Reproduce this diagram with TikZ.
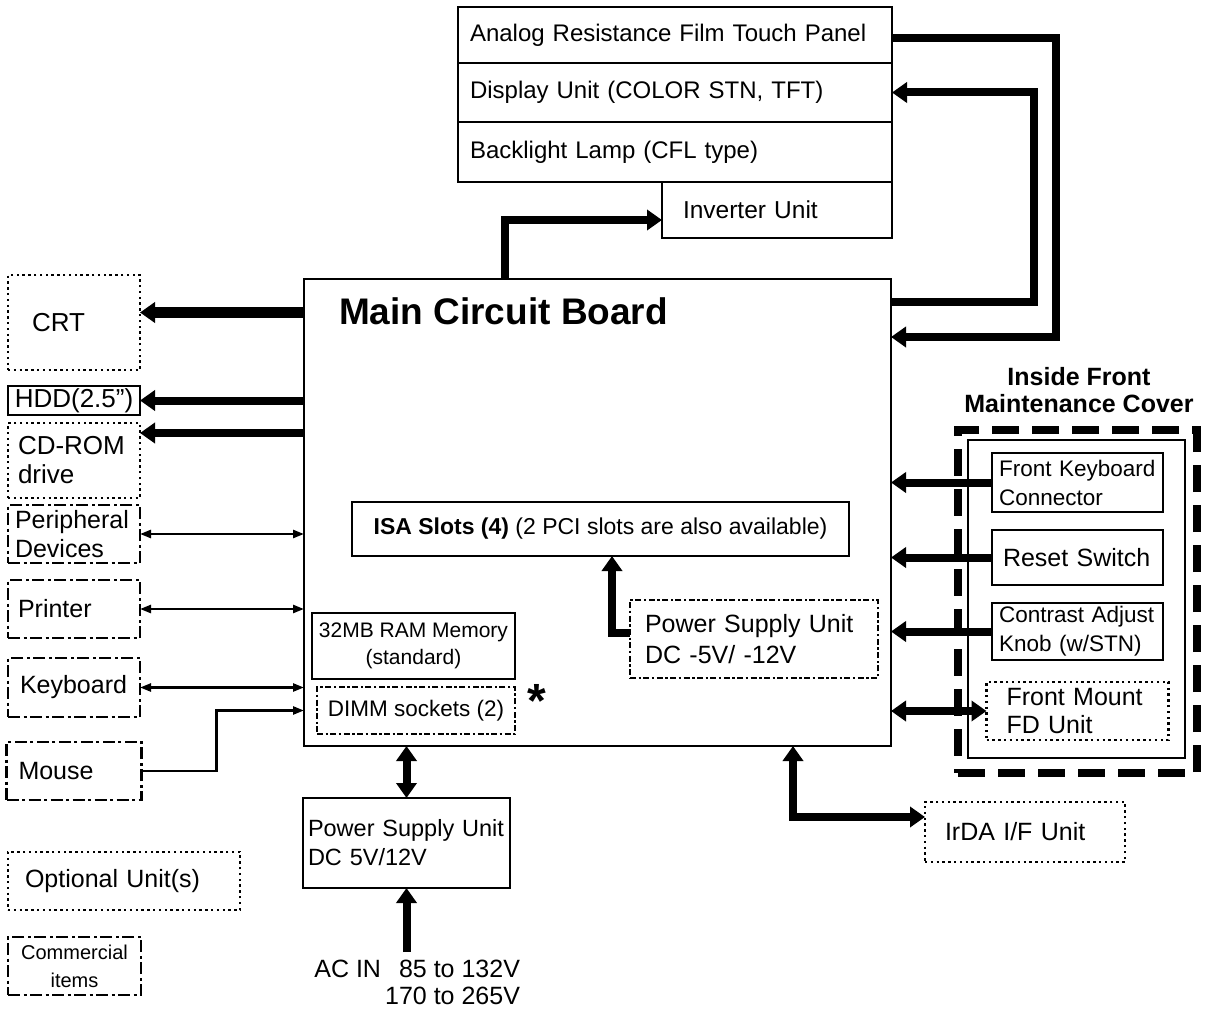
\documentclass[tikz,border=0pt]{standalone}
\usepackage{fontspec}
\setmainfont{Liberation Sans}
\usepackage{tikz}
\usetikzlibrary{arrows.meta,positioning}
\newcommand{\fsz}[2]{\fontsize{#1}{#2}\selectfont}

\begin{document}
\begin{tikzpicture}[x=1pt, y=-1pt, node distance=16pt,
  every node/.style={inner sep=0pt, outer sep=0pt, font=\fsz{25}{29}},
  sbox/.style={draw, line width=2.2pt},
  dotbox/.style={draw, line width=2.4pt, dash pattern=on 2.4pt off 3.4pt},
  dashdot/.style={draw, line width=2.8pt, dash pattern=on 12pt off 3.5pt on 3pt off 3.5pt},
  mixbox/.style={draw, line width=2.4pt, dash pattern=on 6pt off 2.5pt on 2.4pt off 2.5pt},
  lbox/.style 2 args={inner xsep=#1pt, text width=#2pt, align=left},
  thk/.style={line width=8pt, -{Triangle[length=15pt,width=20pt]}},
  thkk/.style={line width=8pt, {Triangle[length=15pt,width=20pt]}-{Triangle[length=15pt,width=20pt]}},
  thn/.style={line width=2.4pt, {Triangle[length=11pt,width=8pt]}-{Triangle[length=11pt,width=8pt]}},
  thn1/.style={line width=2.4pt, -{Triangle[length=11pt,width=8pt]}}]
  \useasboundingbox (0,0) rectangle (1210,1011);

  % display stack
  \node[sbox, lbox={12}{410}, minimum height=56pt, font=\fsz{24}{28}] (touch) at (675,35) {Analog Resistance Film Touch Panel};
  \node[sbox, lbox={12}{410}, minimum height=59pt, font=\fsz{24}{28}, below=0pt of touch] (disp) {Display Unit (COLOR STN, TFT)};
  \node[sbox, lbox={12}{410}, minimum height=60pt, font=\fsz{24}{28}, below=0pt of disp] (lamp) {Backlight Lamp (CFL type)};
  \node[sbox, lbox={21}{188}, minimum height=56pt, font=\fsz{24.5}{28}, below left=0pt and 0pt of lamp.south east] (inv) {Inverter Unit};

  % main board
  \node[sbox, minimum width=587pt, minimum height=467pt] (main) at (597.5,512.5) {};
  \node[font=\bfseries\fsz{37}{40}, anchor=west] (mainlbl) at (339,311) {Main Circuit Board};
  \node[sbox, minimum width=497pt, minimum height=54pt, font=\fsz{23}{27}] (isa) at (600.5,529) {\textbf{ISA Slots (4)} (2 PCI slots are also available)};
  \node[sbox, minimum width=203pt, minimum height=66pt, align=center, font=\fsz{21}{27}] (ram) at (413.5,646) {32MB RAM Memory\\(standard)};
  \node[mixbox, minimum width=198pt, minimum height=47pt, font=\fsz{22.5}{25}] (dimm) at (416,710.5) {DIMM sockets (2)};
  \node[font=\bfseries\fsz{48}{48}] (ast) at (537,701) {*};
  \node[mixbox, lbox={15}{218}, minimum height=78pt, font=\fsz{25}{31}] (psu2) at (754,639) {Power Supply Unit\\DC -5V/ -12V};

  % left column
  \node[dotbox, lbox={24}{84}, minimum height=95pt, font=\fsz{26}{30}] (crt) at (74,322.5) {CRT};
  \node[sbox, minimum width=132pt, minimum height=29pt, font=\fsz{26}{30}, below=16pt of crt] (hdd) {HDD(2.5”)};
  \node[dotbox, lbox={10}{112}, minimum height=75pt, font=\fsz{26}{29}, below=8pt of hdd] (cdrom) {CD-ROM\\drive};
  \node[dashdot, lbox={7}{118}, minimum height=58pt, below=7pt of cdrom] (periph) {Peripheral\\Devices};
  \node[dashdot, lbox={10}{112}, minimum height=58pt, below=17pt of periph] (prn) {Printer};
  \node[dashdot, lbox={12}{108}, minimum height=59pt, below=20pt of prn] (kbd) {Keyboard};
  \node[dashdot, lbox={12}{111}, minimum height=58pt, below=25pt of kbd] (mouse) {Mouse};
  \node[dotbox, lbox={17}{198}, minimum height=58pt] (opt) at (124,881) {Optional Unit(s)};
  \node[dashdot, minimum width=133pt, minimum height=58pt, align=center, font=\fsz{20}{28}] (comm) at (74.5,966) {Commercial\\items};

  % power supply
  \node[sbox, lbox={5}{197}, minimum height=90pt, font=\fsz{23.5}{29}] (psu) at (406.5,843) {Power Supply Unit\\DC 5V/12V};
  \node[align=right, font=\fsz{25}{27}, anchor=north east] (acin) at (520,960) {AC IN\hspace{18pt}85 to 132V\\170 to 265V};

  % front cover
  \node[draw, line width=8pt, dash pattern=on 27pt off 13pt, minimum width=239pt, minimum height=343pt] (cover) at (1077.5,601.5) {};
  \node[sbox, minimum width=217pt, minimum height=318pt] (coverin) at (1076.5,599) {};
  \node[font=\bfseries\fsz{25}{27}, align=center] (covlbl) at (1079,390) {Inside Front\\Maintenance Cover};
  \node[sbox, lbox={7}{157}, minimum height=59pt, font=\fsz{22.5}{29}] (fkc) at (1077.5,482.5) {Front Keyboard\\Connector};
  \node[sbox, lbox={11}{149}, minimum height=55pt, below=18pt of fkc] (reset) {Reset Switch};
  \node[sbox, lbox={7}{157}, minimum height=57pt, font=\fsz{22.5}{29}, below=18pt of reset] (knob) {Contrast Adjust\\Knob (w/STN)};
  \node[dotbox, lbox={20}{142}, minimum height=58pt, font=\fsz{25}{28}, below=22pt of knob] (fd) {Front Mount\\FD Unit};
  \node[dotbox, lbox={20}{160}, minimum height=60pt] (irda) at (1025,832) {IrDA I/F Unit};

  % connectors
  \coordinate (crtin) at ([yshift=10pt]crt.east);
  \coordinate (cdin) at ([yshift=-10pt]cdrom.north east);
  \coordinate (acarr) at ([yshift=8pt]acin.north);
  \draw[thk, line width=11pt] (main.west |- crtin) -- (crtin);
  \draw[thk] (main.west |- hdd.east) -- (hdd.east);
  \draw[thk] (main.west |- cdin) -- (cdin);
  \draw[thn] (periph.east) -- (main.west |- periph.east);
  \draw[thn] (prn.east) -- (main.west |- prn.east);
  \draw[thn] (kbd.east) -- (main.west |- kbd.east);
  \draw[thn1] (mouse.east) -- ++(75,0) |- (main.west |- dimm.west);

  \draw[thk] ([yshift=-3pt]touch.east) -- ++(164,0) |- ([yshift=-58pt]main.north east);
  \draw[thk] ([yshift=-23pt]main.north east) -- ++(143,0) |- (disp.east);
  \draw[thk] ([xshift=201pt]main.north west) |- ([yshift=-10pt]inv.west);

  \draw[thk] (fkc.west) -- (main.east |- fkc.west);
  \draw[thk] (reset.west) -- (main.east |- reset.west);
  \draw[thk] (knob.west) -- (main.east |- knob.west);
  \draw[thkk] (main.east |- fd.west) -- (fd.west);
  \draw[thkk] ([xshift=195.5pt]main.south) |- ([yshift=15pt]irda.west);

  \draw[thkk] (main.south -| psu.north) -- (psu.north);
  \draw[thk] (acarr -| psu.south) -- (psu.south);
  \draw[thk] ([yshift=6pt]psu2.west) -| ([xshift=11.5pt]isa.south);
\end{tikzpicture}
\end{document}
